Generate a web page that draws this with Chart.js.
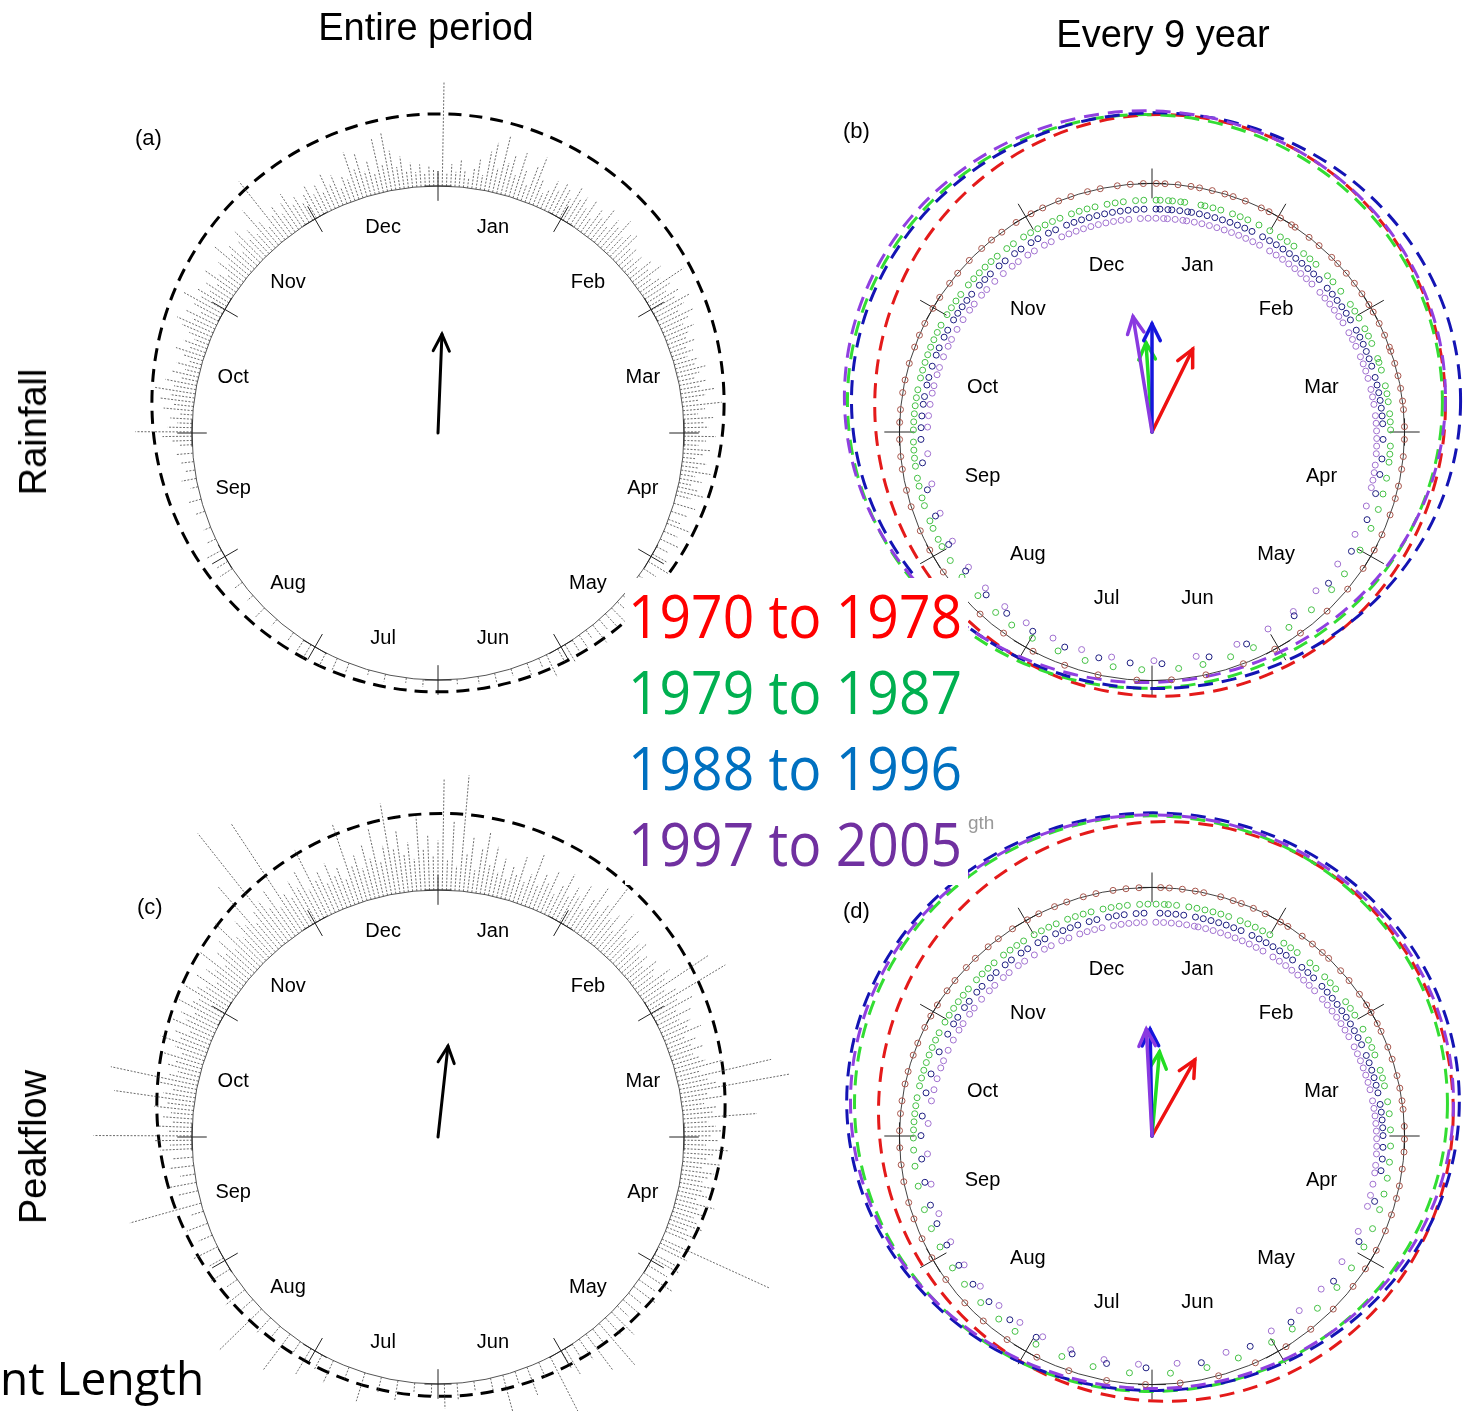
<!DOCTYPE html>
<html>
<head>
<meta charset="utf-8">
<script src="https://cdn.jsdelivr.net/npm/chart.js@4/dist/chart.umd.min.js"></script>
<style>
  body { margin: 0; width: 1473px; height: 1411px; overflow: hidden; background: #fff; position: relative; font-family: "Liberation Sans", Arial, sans-serif; }
  .panel { position: absolute; }
  .txt { position: absolute; line-height: 1; white-space: nowrap; color: #000; }
  .legbox { position: absolute; left: 625px; top: 578px; width: 343px; height: 307px; background: #fff; }
  .leg { position: absolute; left: 3px; font-family: "Open Sans", sans-serif; font-size: 60px; line-height: 1; transform: scaleX(0.92); transform-origin: left top; white-space: nowrap; }
</style>
</head>
<body>

<canvas id="pa" class="panel" width="860" height="860" style="left:8px;top:3px"></canvas>
<canvas id="pb" class="panel" width="860" height="860" style="left:722px;top:2px"></canvas>
<canvas id="pc" class="panel" width="860" height="860" style="left:8px;top:707px"></canvas>
<canvas id="pd" class="panel" width="860" height="860" style="left:722px;top:706px"></canvas>

<div class="txt" style="left:426px;top:8px;font-size:38px;transform:translateX(-50%)">Entire period</div>
<div class="txt" style="left:1163px;top:15px;font-size:38px;transform:translateX(-50%)">Every 9 year</div>
<div class="txt" style="left:33px;top:432px;font-size:38px;transform:translate(-50%,-50%) rotate(-90deg)">Rainfall</div>
<div class="txt" style="left:33px;top:1147px;font-size:38px;transform:translate(-50%,-50%) rotate(-90deg)">Peakflow</div>
<div class="txt" style="left:135px;top:127px;font-size:22px">(a)</div>
<div class="txt" style="left:843px;top:120px;font-size:22px">(b)</div>
<div class="txt" style="left:137px;top:896px;font-size:22px">(c)</div>
<div class="txt" style="left:843px;top:900px;font-size:22px">(d)</div>
<div class="txt" style="left:968px;top:813px;font-size:19px;color:#999">gth</div>
<div class="txt" style="left:0px;top:1354px;font-size:46px;font-family:'Open Sans',sans-serif">nt Length</div>

<div class="legbox">
  <div class="leg" style="top:7px;color:#FF0000">1970 to 1978</div>
  <div class="leg" style="top:83px;color:#00B050">1979 to 1987</div>
  <div class="leg" style="top:159px;color:#0070C0">1988 to 1996</div>
  <div class="leg" style="top:235px;color:#7030A0">1997 to 2005</div>
</div>

<script>
// ---- data ----
const months = ['Jan','Feb','Mar','Apr','May','Jun','Jul','Aug','Sep','Oct','Nov','Dec'];
const periods = ['1970 to 1978', '1979 to 1987', '1988 to 1996', '1997 to 2005'];

// (a) rainfall events: day of year and bar length (inner circle radius = 1)
const rainDays = [1,2,3,4,5,6,7,8,9,10,11,12,13,14,15,16,17,18,19,20,21,22,23,24,25,26,27,28,29,30,31,
  32,33,34,35,36,37,38,39,40,41,42,43,44,45,46,47,48,49,50,51,52,53,54,55,56,57,58,59,
  60,61,62,63,64,65,66,67,68,69,70,71,72,73,74,75,76,77,78,79,80,81,82,83,84,85,86,87,88,89,90,
  91,92,93,94,95,96,97,98,99,100,101,102,103,104,105,106,108,110,112,113,115,117,119,
  121,123,125,127,129,131,133,135,137,139,141,143,145,147,149,151,
  153,156,158,161,165,169,173,178,186,190,195,199,204,207,210,
  214,216,219,224,228,232,236,240,242,245,248,251,255,258,261,263,265,267,269,271,272,273,
  274,275,276,277,278,279,280,281,282,283,284,285,286,287,288,289,290,291,292,293,294,295,296,297,298,299,300,301,302,303,304,
  305,306,307,308,309,310,311,312,313,314,315,316,317,318,319,320,321,322,323,324,325,326,327,328,329,330,331,332,333,334,
  335,336,337,338,339,340,341,342,343,344,345,346,347,348,349,350,351,352,353,354,355,356,357,358,359,360,361,362,363,364,365];
const rainLens = [0.42,0.05,0.09,0.06,0.11,0.07,0.04,0.08,0.12,0.06,0.16,0.2,0.1,0.24,0.13,0.17,0.09,0.19,0.12,0.07,0.15,0.2,0.11,0.06,0.08,0.13,0.1,0.14,0.12,0.09,0.15,
  0.11,0.13,0.09,0.14,0.07,0.12,0.1,0.15,0.08,0.13,0.11,0.16,0.09,0.12,0.14,0.08,0.1,0.06,0.09,0.05,0.11,0.08,0.13,0.07,0.1,0.2,0.12,0.09,
  0.14,0.11,0.17,0.13,0.1,0.15,0.12,0.09,0.13,0.1,0.08,0.11,0.07,0.09,0.06,0.1,0.08,0.12,0.09,0.07,0.11,0.08,0.14,0.1,0.07,0.16,0.09,0.06,0.12,0.08,0.1,
  0.07,0.13,0.09,0.06,0.11,0.08,0.05,0.1,0.07,0.12,0.06,0.09,0.05,0.08,0.11,0.06,0.09,0.07,0.05,0.1,0.06,0.08,0.05,
  0.07,0.1,0.06,0.09,0.05,0.08,0.12,0.06,0.1,0.07,0.05,0.09,0.04,0.06,0.05,0.08,
  0.06,0.1,0.04,0.05,0.03,0.04,0.03,0.02,0.03,0.02,0.03,0.02,0.04,0.05,0.06,
  0.07,0.05,0.04,0.03,0.05,0.03,0.04,0.06,0.05,0.07,0.04,0.03,0.04,0.05,0.03,0.06,0.04,0.05,0.07,0.05,0.08,0.12,
  0.23,0.1,0.06,0.09,0.05,0.12,0.08,0.14,0.1,0.17,0.09,0.13,0.07,0.11,0.06,0.1,0.05,0.08,0.12,0.07,0.1,0.06,0.09,0.13,0.16,0.1,0.14,0.08,0.12,0.18,0.11,
  0.14,0.09,0.12,0.08,0.15,0.1,0.07,0.13,0.09,0.18,0.11,0.14,0.08,0.12,0.16,0.1,0.13,0.09,0.2,0.12,0.08,0.3,0.11,0.14,0.09,0.13,0.16,0.1,0.12,0.08,
  0.11,0.14,0.09,0.12,0.08,0.15,0.1,0.13,0.07,0.11,0.09,0.2,0.12,0.18,0.1,0.14,0.08,0.22,0.11,0.24,0.16,0.09,0.13,0.07,0.1,0.06,0.09,0.05,0.08,0.07,0.06];

// (c) peak flow events
const flowDays = [1,2,3,4,5,6,7,8,9,10,11,12,13,14,15,16,17,18,19,20,21,22,23,24,25,26,27,28,29,30,31,
  32,33,34,35,36,37,38,39,40,41,42,43,44,45,46,47,48,49,50,51,52,53,54,55,56,57,58,59,
  60,61,62,63,64,65,66,67,68,69,70,71,72,73,74,75,76,77,78,79,80,81,82,83,84,85,86,87,88,89,90,
  91,92,93,94,95,96,97,98,99,100,101,102,103,104,105,106,107,108,109,110,111,112,113,114,116,117,118,120,
  121,123,125,127,129,131,133,135,137,139,141,143,145,147,149,151,
  152,155,158,161,164,167,170,174,178,181,184,188,192,196,200,204,208,211,
  214,217,220,223,226,229,232,235,238,241,244,247,250,253,256,258,261,263,265,267,269,271,272,273,
  274,275,276,277,278,279,280,281,282,283,284,285,286,287,288,289,290,291,292,293,294,295,296,297,298,299,300,301,302,303,304,
  305,306,307,308,309,310,311,312,313,314,315,316,317,318,319,320,321,322,323,324,325,326,327,328,329,330,331,332,333,334,
  335,336,337,338,339,340,341,342,343,344,345,346,347,348,349,350,351,352,353,354,355,356,357,358,359,360,361,362,363,364,365];
const flowLens = [0.45,0.12,0.28,0.1,0.47,0.15,0.22,0.09,0.18,0.25,0.12,0.2,0.1,0.16,0.08,0.14,0.11,0.19,0.09,0.13,0.22,0.1,0.15,0.12,0.18,0.09,0.14,0.2,0.11,0.16,0.13,
  0.19,0.1,0.15,0.22,0.12,0.17,0.3,0.13,0.16,0.1,0.2,0.14,0.11,0.17,0.09,0.13,0.15,0.1,0.12,0.08,0.14,0.11,0.09,0.16,0.12,0.32,0.1,0.14,
  0.36,0.12,0.18,0.1,0.15,0.09,0.13,0.11,0.16,0.08,0.12,0.1,0.14,0.09,0.11,0.13,0.2,0.1,0.39,0.12,0.15,0.45,0.11,0.17,0.09,0.14,0.12,0.3,0.1,0.13,0.16,
  0.11,0.14,0.09,0.18,0.12,0.1,0.15,0.08,0.13,0.11,0.09,0.14,0.1,0.12,0.08,0.16,0.1,0.13,0.09,0.11,0.14,0.08,0.12,0.1,0.48,0.09,0.13,0.1,
  0.12,0.09,0.14,0.08,0.11,0.07,0.1,0.06,0.13,0.09,0.22,0.07,0.18,0.1,0.06,0.12,
  0.08,0.28,0.07,0.12,0.05,0.18,0.06,0.04,0.07,0.1,0.05,0.04,0.08,0.06,0.12,0.05,0.1,0.07,
  0.12,0.06,0.18,0.05,0.08,0.24,0.06,0.1,0.05,0.09,0.07,0.11,0.06,0.09,0.05,0.3,0.08,0.12,0.06,0.1,0.08,0.13,0.09,0.15,
  0.4,0.1,0.14,0.08,0.12,0.09,0.16,0.11,0.33,0.13,0.1,0.15,0.36,0.12,0.09,0.14,0.11,0.17,0.1,0.13,0.2,0.12,0.15,0.1,0.18,0.13,0.16,0.11,0.19,0.14,0.12,
  0.2,0.15,0.12,0.18,0.1,0.16,0.13,0.22,0.11,0.17,0.14,0.19,0.12,0.25,0.15,0.13,0.2,0.16,0.35,0.14,0.18,0.57,0.2,0.15,0.22,0.13,0.52,0.17,0.14,0.2,
  0.16,0.22,0.13,0.3,0.15,0.18,0.12,0.2,0.14,0.17,0.11,0.34,0.15,0.19,0.13,0.22,0.16,0.28,0.14,0.2,0.37,0.18,0.25,0.15,0.2,0.13,0.3,0.17,0.22,0.14,0.2];

// mean vectors: direction (deg clockwise from 1 Jan) and resultant length
const rainMeanDir = 2.3, rainMeanLen = 0.40;
const flowMeanDir = 6.3, flowMeanLen = 0.37;
const rainPeriodDir = [25.8, -3.8, 0, -9.2];
const rainPeriodLen = [0.37, 0.36, 0.435, 0.47];
const flowPeriodDir = [29, 5, -1, -3];
const flowPeriodLen = [0.35, 0.34, 0.43, 0.43];

// density rings: centre offset and radii (inner circle radius = 1)
const rainRing = [0, 0.122, 1.163, 1.17];
const flowRing = [0.012, 0.13, 1.155, 1.18];
const rainRingsCx = [0.032, -0.028, 0.016, -0.028];
const rainRingsCy = [0.107, 0.123, 0.126, 0.142];
const rainRingsRx = [1.130, 1.178, 1.206, 1.190];
const rainRingsRy = [1.170, 1.154, 1.158, 1.150];
const flowRingsCx = [0.055, -0.004, 0.004, 0.0];
const flowRingsCy = [0.099, 0.130, 0.138, 0.138];
const flowRingsRx = [1.138, 1.174, 1.213, 1.194];
const flowRingsRy = [1.166, 1.158, 1.162, 1.154];

// event days per period, (b) rainfall
const rainP1 = [1,3,6,9,11,14,17,19,22,26,28,31,34,35,39,42,46,48,51,54,57,60,62,65,68,71,72,75,78,81,84,86,90,93,97,100,104,107,111,116,120,125,131,138,146,153,161,170,178,186,195,203,211,219,226,232,239,245,250,256,260,265,268,272,276,279,283,286,290,294,297,300,304,307,311,314,318,322,325,328,332,336,339,343,346,350,353,357,360,363];
const rainP2 = [1,2,4,5,7,8,12,13,15,17,20,22,24,27,30,33,35,37,40,42,44,48,50,53,57,59,61,64,66,68,72,73,75,79,81,83,86,88,90,94,96,98,102,106,110,115,121,128,133,140,147,157,163,170,176,185,192,199,206,213,219,224,230,236,241,245,247,250,252,256,258,261,263,266,268,270,272,275,277,279,281,283,285,288,290,292,294,296,298,300,302,305,307,309,311,314,316,318,320,322,324,327,329,332,334,336,338,340,342,345,347,349,351,354,356,358,361,363];
const rainP3 = [1,2,4,5,7,9,10,12,14,16,18,20,22,24,26,29,31,33,35,37,39,41,43,45,47,50,52,54,56,58,60,63,65,67,69,71,73,76,78,80,82,84,86,88,92,97,101,106,113,122,132,144,158,168,180,188,196,205,214,222,229,237,245,253,260,267,273,276,279,282,284,287,289,292,295,297,300,302,305,307,309,311,313,316,318,320,323,325,328,330,333,335,338,340,343,345,347,349,351,353,355,357,359,361,363];
const rainP4 = [1,3,4,6,8,9,11,13,15,17,19,21,23,25,27,29,32,34,36,38,40,42,44,46,49,51,53,55,57,59,62,64,66,69,71,73,75,78,80,82,85,87,89,91,93,95,98,100,102,104,109,117,126,135,143,151,160,171,182,193,201,209,217,224,231,238,246,254,262,270,277,280,283,286,288,291,293,296,299,301,304,307,310,312,315,317,320,323,326,328,331,333,336,338,341,343,345,347,349,351,353,355,357,359,362,364];
// (d) peak flow
const flowP1 = [2,4,7,10,12,16,19,21,24,27,31,33,37,40,43,45,49,52,56,59,61,64,66,70,73,77,80,83,85,89,92,95,99,103,106,110,114,119,124,129,136,143,150,158,167,176,184,193,202,210,218,225,231,238,244,249,254,258,263,267,271,275,279,282,286,289,293,296,300,303,306,310,313,317,320,324,327,331,335,338,342,345,349,352,356,359,362];
const flowP2 = [1,3,4,6,9,11,13,15,17,19,22,24,26,28,30,34,36,38,42,44,47,49,51,55,57,59,63,66,68,70,74,76,78,82,85,89,93,97,101,105,109,114,119,125,131,138,146,152,161,169,178,188,197,205,212,218,223,229,235,240,246,251,256,262,267,271,274,276,278,280,282,284,287,289,291,293,295,297,299,301,304,306,308,310,312,314,317,319,321,323,326,328,330,332,335,337,339,341,344,346,348,350,353,355,357,359,362,364];
const flowP3 = [2,4,6,8,11,13,15,17,19,21,23,26,28,30,32,34,36,38,41,43,45,48,50,52,54,56,58,60,62,64,66,69,71,73,75,77,79,82,84,86,88,90,93,96,99,107,118,130,145,157,170,184,194,203,213,221,228,234,240,246,252,257,263,269,275,280,286,291,297,302,305,307,310,312,315,317,320,322,325,327,330,332,335,337,340,342,344,346,349,351,354,356,358,361,363];
const flowP4 = [1,3,5,7,9,11,12,14,16,18,20,22,24,26,28,30,33,35,37,39,41,43,45,47,50,52,54,56,58,60,62,65,67,69,71,73,75,77,80,82,84,86,88,90,92,94,97,99,102,105,108,115,124,133,141,150,163,176,186,195,204,212,219,226,233,240,247,255,263,271,279,285,288,291,294,296,299,302,305,307,310,312,315,318,320,323,325,328,330,333,336,338,341,343,346,348,350,352,355,357,359,361,363];

// ---- styling ----
const ringColors = ['#e41a1a', '#33dd33', '#1414b4', '#9040e0'];
const arrowColors = ['#ee1111', '#22dd22', '#1515dd', '#8a3ae0'];
const pointColors = ['#a8564c', '#44c044', '#1c1c80', '#a070d0'];
const pointRadii = [1.0, 0.945, 0.915, 0.89];
const pointShift = [0, -0.012, -0.018, -0.03];
const HALF = 430;
const DEG = Math.PI / 180;

function polar(deg, r) {
  return { x: r * Math.sin(deg * DEG), y: r * Math.cos(deg * DEG) };
}
function dayAngle(d) { return d / 365 * 360; }

function rayData(days, lens) {
  const out = [];
  days.forEach((d, i) => {
    const a = dayAngle(d);
    out.push(polar(a, 1), polar(a, 1 + lens[i]), { x: NaN, y: NaN });
  });
  return out;
}

function pointData(days, r, sy) {
  return days.map(d => {
    const p = polar(dayAngle(d), r);
    return { x: p.x, y: p.y + sy };
  });
}

function arrowSets(dir, len, color, width) {
  const tip = polar(dir, len);
  const w1 = polar(dir + 180 - 26, 0.075), w2 = polar(dir + 180 + 26, 0.075);
  const base = { showLine: true, pointRadius: 0, borderColor: color, borderWidth: width, fill: false, borderCapStyle: 'round', borderJoinStyle: 'miter' };
  return [
    Object.assign({ data: [{ x: 0, y: 0 }, tip] }, base),
    Object.assign({ data: [{ x: tip.x + w1.x, y: tip.y + w1.y }, tip, { x: tip.x + w2.x, y: tip.y + w2.y }] }, base)
  ];
}

function makeDecor(cfg) {
  return {
    id: 'decor',
    beforeDatasetsDraw(chart) {
      const { ctx, scales: { x, y } } = chart;
      const px = v => x.getPixelForValue(v), py = v => y.getPixelForValue(v);
      const ux = px(1) - px(0), uy = py(0) - py(1);
      ctx.save();
      // inner circle
      ctx.strokeStyle = cfg.circleColor;
      ctx.lineWidth = cfg.circleWidth;
      ctx.beginPath();
      ctx.ellipse(px(0), py(0), ux, uy, 0, 0, 2 * Math.PI);
      ctx.stroke();
      // month crosses
      ctx.strokeStyle = '#222';
      ctx.lineWidth = 1;
      for (let k = 0; k < 12; k++) {
        const s = Math.sin(k * 30 * DEG), c = Math.cos(k * 30 * DEG);
        ctx.beginPath();
        ctx.moveTo(px(s * 0.94), py(c * 0.94));
        ctx.lineTo(px(s * 1.06), py(c * 1.06));
        ctx.moveTo(px(s - c * 0.055), py(c + s * 0.055));
        ctx.lineTo(px(s + c * 0.055), py(c - s * 0.055));
        ctx.stroke();
      }
      // month names
      ctx.fillStyle = '#000';
      ctx.font = '20px "Liberation Sans", Arial, sans-serif';
      ctx.textAlign = 'center';
      ctx.textBaseline = 'middle';
      months.forEach((m, k) => {
        const p = polar(15 + k * 30, cfg.labelR);
        ctx.fillText(m, px(p.x), py(p.y));
      });
      // dashed rings
      ctx.lineWidth = 3;
      ctx.setLineDash(cfg.dash);
      cfg.rings.forEach(r => {
        ctx.strokeStyle = r.color;
        ctx.beginPath();
        ctx.ellipse(px(r.cx), py(r.cy), r.rx * ux, r.ry * uy, 0, 0, 2 * Math.PI);
        ctx.stroke();
      });
      ctx.restore();
    }
  };
}

function makePanel(id, ux, uy, datasets, cfg) {
  const lx = HALF / ux, ly = HALF / uy;
  return new Chart(document.getElementById(id), {
    type: 'scatter',
    data: { datasets },
    options: {
      responsive: false,
      animation: false,
      events: [],
      devicePixelRatio: 1,
      layout: { padding: 0 },
      plugins: { legend: { display: false }, tooltip: { enabled: false } },
      scales: {
        x: { type: 'linear', min: -lx, max: lx, display: false },
        y: { type: 'linear', min: -ly, max: ly, display: false }
      }
    },
    plugins: [makeDecor(cfg)]
  });
}

function raySet(days, lens) {
  return { data: rayData(days, lens), showLine: true, pointRadius: 0, borderColor: 'rgba(70,70,70,0.8)', borderWidth: 1, borderDash: [2, 1.5], spanGaps: false };
}

function periodPoints(lists) {
  return lists.map((days, i) => ({
    data: pointData(days, pointRadii[i], pointShift[i]),
    showLine: false, pointRadius: 3, pointBorderWidth: 1,
    pointBackgroundColor: 'rgba(255,255,255,0)', pointBorderColor: pointColors[i]
  }));
}

function periodRings(cx, cy, rx, ry) {
  return periods.map((p, i) => ({ cx: cx[i], cy: cy[i], rx: rx[i], ry: ry[i], color: ringColors[i] }));
}

// (a) rainfall, entire period
makePanel('pa', 246, 247,
  [raySet(rainDays, rainLens)].concat(arrowSets(rainMeanDir, rainMeanLen, '#000', 3)),
  { circleColor: '#555', circleWidth: 1, labelR: 0.862, dash: [13, 8],
    rings: [{ cx: rainRing[0], cy: rainRing[1], rx: rainRing[2], ry: rainRing[3], color: '#000' }] });

// (c) peak flow, entire period
makePanel('pc', 246, 247,
  [raySet(flowDays, flowLens)].concat(arrowSets(flowMeanDir, flowMeanLen, '#000', 3)),
  { circleColor: '#555', circleWidth: 1, labelR: 0.862, dash: [13, 8],
    rings: [{ cx: flowRing[0], cy: flowRing[1], rx: flowRing[2], ry: flowRing[3], color: '#000' }] });

// (b) rainfall, every 9 years
let bSets = periodPoints([rainP1, rainP2, rainP3, rainP4]);
[3, 2, 1, 0].forEach(i => { bSets = bSets.concat(arrowSets(rainPeriodDir[i], rainPeriodLen[i], arrowColors[i], 3.5)); });
makePanel('pb', 255.5, 251.5, bSets,
  { circleColor: '#111', circleWidth: 0.8, labelR: 0.695, dash: [15, 9],
    rings: periodRings(rainRingsCx, rainRingsCy, rainRingsRx, rainRingsRy) });

// (d) peak flow, every 9 years
let dSets = periodPoints([flowP1, flowP2, flowP3, flowP4]);
[3, 2, 1, 0].forEach(i => { dSets = dSets.concat(arrowSets(flowPeriodDir[i], flowPeriodLen[i], arrowColors[i], 3.5)); });
makePanel('pd', 255.5, 251.5, dSets,
  { circleColor: '#111', circleWidth: 0.8, labelR: 0.695, dash: [15, 9],
    rings: periodRings(flowRingsCx, flowRingsCy, flowRingsRx, flowRingsRy) });
</script>
</body>
</html>
